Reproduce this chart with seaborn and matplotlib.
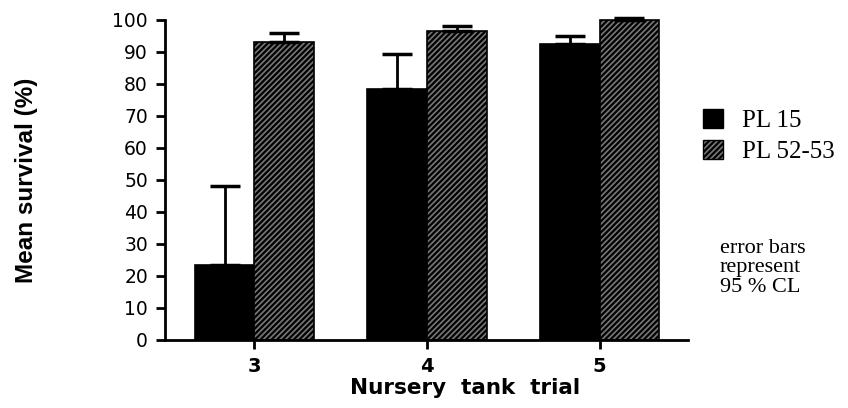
import numpy as np
import seaborn as sns
import matplotlib.pyplot as plt
import pandas as pd
from matplotlib.patches import Patch

trials = ['3', '4', '5']
groups = ['PL 15', 'PL 52-53']
pl15_mean = [23.5, 78.5, 92.5]
pl15_upper = [48, 89.5, 95]
pl52_mean = [93, 96.5, 100]
pl52_upper = [96, 98, 100.5]
y_ticks = list(range(0, 101, 10))


def main():
    sns.set_style('ticks')
    plt.rcParams['font.family'] = ['DejaVu Sans']
    plt.rcParams['hatch.linewidth'] = 1.6
    plt.rcParams['hatch.color'] = 'black'
    for k in ['text.color', 'axes.labelcolor', 'xtick.color', 'ytick.color',
              'axes.edgecolor']:
        plt.rcParams[k] = 'black'

    df = pd.DataFrame({
        'trial': trials * 2,
        'group': [groups[0]] * 3 + [groups[1]] * 3,
        'survival': pl15_mean + pl52_mean,
    })
    upper = pl15_upper + pl52_upper

    fig = plt.figure(figsize=(8.48, 4.08), dpi=100)
    ax = fig.add_axes([0.195, 0.167, 0.616, 0.784])
    sns.barplot(data=df, x='trial', y='survival', hue='group', order=trials,
                hue_order=groups, palette=['black', '#777777'], errorbar=None,
                width=0.69, saturation=1, legend=False, ax=ax)

    bars = ax.patches[:6]
    for i, b in enumerate(bars):
        b.set_edgecolor('black')
        b.set_linewidth(1.2)
        b.set_clip_on(False)
        if i >= 3:
            b.set_hatch('//////')
        xc = b.get_x() + b.get_width() / 2
        h = b.get_height()
        ax.errorbar([xc], [h], yerr=[[0], [upper[i] - h]], fmt='none',
                    ecolor='black', elinewidth=2, capsize=11, capthick=2.5,
                    zorder=1, clip_on=False)

    ax.set_xlim(-0.515, 2.51)
    ax.set_ylim(0, 100)
    ax.set_yticks(y_ticks)
    ax.set_yticklabels([str(t) for t in y_ticks], fontsize=13.5)
    ax.set_xticks(range(len(trials)))
    ax.set_xticklabels(trials, fontsize=14, fontweight='bold')
    ax.tick_params(axis='both', width=2, length=6.5, pad=6)
    for s in ['top', 'right']:
        ax.spines[s].set_visible(False)
    for s in ['left', 'bottom']:
        ax.spines[s].set_linewidth(2)

    ax.set_xlabel('Nursery  tank  trial', fontsize=15.5, fontweight='bold')
    ax.xaxis.set_label_coords(0.574, -0.118)
    ax.set_ylabel('Mean survival (%)', fontsize=17.5, fontweight='bold',
                  family=['Liberation Sans', 'DejaVu Sans'])
    ax.yaxis.label.set_va('center')
    ax.yaxis.set_label_coords(-0.265, 0.5)

    handles = [Patch(facecolor='black', edgecolor='black'),
               Patch(facecolor='#777777', edgecolor='black', hatch='//////')]
    fig.legend(handles, groups, loc='upper left', bbox_to_anchor=(0.817, 0.757),
               frameon=False, prop={'family': 'Liberation Serif', 'size': 18},
               handlelength=0.8, handleheight=0.8, handletextpad=0.75,
               labelspacing=0.3, borderaxespad=0)
    fig.text(0.849, 0.272, 'error bars\nrepresent\n95 % CL', fontsize=16,
             family='Liberation Serif', linespacing=1.05, va='bottom')

    fig.savefig('out.png', dpi=100)


if __name__ == '__main__':
    main()
